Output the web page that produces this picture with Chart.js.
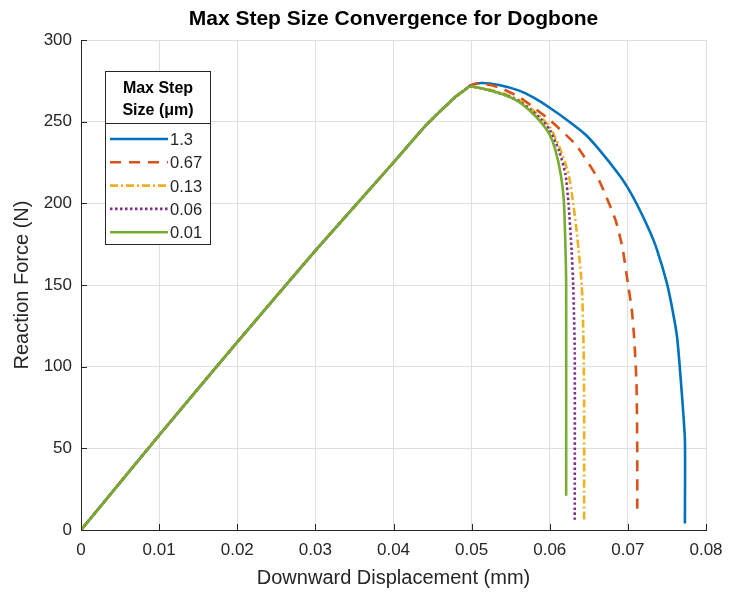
<!DOCTYPE html>
<html>
<head>
<meta charset="utf-8">
<title>Max Step Size Convergence for Dogbone</title>
<script src="https://cdn.jsdelivr.net/npm/chart.js@4.4.1/dist/chart.umd.min.js"></script>
<style>
  html, body { margin: 0; padding: 0; background: #fff; }
  #wrap { width: 730px; height: 596px; }
</style>
</head>
<body>
<div id="wrap"><canvas id="myChart1" width="730" height="596"></canvas></div>
<script>
var chartTitle = "Max Step Size Convergence for Dogbone";
var legendTitle = ["Max Step", "Size (\u03bcm)"];
var stepLabels = ["1.3", "0.67", "0.13", "0.06", "0.01"];

var xTickLabels = ["0", "0.01", "0.02", "0.03", "0.04", "0.05", "0.06", "0.07", "0.08"];
var yTickLabels = ["0", "50", "100", "150", "200", "250", "300"];

// elastic part, same for every run
var riseX = [0, 0.01, 0.02, 0.03, 0.04, 0.044, 0.046, 0.047, 0.048, 0.049];
var riseY = [0, 58, 115, 171, 225, 247, 256.5, 261, 265.5, 269];

// softening + failure, one pair per step size
var dropX_13 = [0.0498, 0.0512, 0.0535, 0.0561, 0.058, 0.06, 0.0625, 0.0646, 0.0663, 0.0688, 0.07, 0.0712, 0.0727, 0.0737, 0.075, 0.0757, 0.0763, 0.0769, 0.0773, 0.0773];
var dropY_13 = [272, 273.7, 272.5, 269, 264.5, 258.5, 250, 242, 233, 218, 209.5, 199, 184, 172, 151, 135, 118, 84, 55, 4];

var dropX_067 = [0.0498, 0.051, 0.0535, 0.0561, 0.058, 0.06, 0.0633, 0.0663, 0.0684, 0.0693, 0.07, 0.0705, 0.0708, 0.0711, 0.0712, 0.0712];
var dropY_067 = [272, 273.5, 271, 265, 258.5, 251, 236, 214, 190, 173, 151, 135, 118, 90, 50, 13];

var dropX_013 = [0.0498, 0.052, 0.0545, 0.0561, 0.0575, 0.059, 0.06, 0.0612, 0.0624, 0.063, 0.0634, 0.0637, 0.0641, 0.0643, 0.0644, 0.0644];
var dropY_013 = [271.5, 270, 266.5, 263, 258.5, 252, 247, 235, 218, 200, 185, 171, 150, 120, 80, 5];

var dropX_006 = [0.0498, 0.052, 0.0545, 0.0561, 0.0575, 0.059, 0.06, 0.0612, 0.062, 0.0624, 0.0628, 0.063, 0.0632, 0.0632];
var dropY_006 = [271.5, 269.5, 266, 262.5, 257.5, 251, 245, 232, 218, 200, 171, 150, 110, 6];

var dropX_001 = [0.0498, 0.052, 0.0544, 0.0561, 0.0575, 0.059, 0.06, 0.0607, 0.0614, 0.0618, 0.062, 0.0621, 0.0621];
var dropY_001 = [271.5, 269.5, 266, 262, 256.5, 249, 242, 233, 218, 202, 175, 150, 21];

var axisColor = "#262626";
var gridColor = "#dfdfdf";
var fontFam = "'Liberation Sans', Arial, Helvetica, sans-serif";

function curve(dx, dy) {
    var pts = [];
    for (var i = 0; i < riseX.length; i++) pts.push({x: riseX[i], y: riseY[i]});
    for (var j = 0; j < dx.length; j++) pts.push({x: dx[j], y: dy[j]});
    return pts;
}

function line(label, dx, dy, color, dash, order) {
    return {
        label: label,
        data: curve(dx, dy),
        showLine: true,
        borderColor: color,
        backgroundColor: color,
        borderWidth: 2.6,
        borderDash: dash,
        pointRadius: 0,
        tension: 0.2,
        fill: false,
        order: order
    };
}

var ptdata = {
    datasets: [
        line(stepLabels[0], dropX_13, dropY_13, "#0072BD", [], 4),
        line(stepLabels[1], dropX_067, dropY_067, "#D95319", [11, 8], 3),
        line(stepLabels[2], dropX_013, dropY_013, "#EDB120", [8, 3, 2, 3], 2),
        line(stepLabels[3], dropX_006, dropY_006, "#7E2F8E", [2.5, 2.5], 1),
        line(stepLabels[4], dropX_001, dropY_001, "#77AC30", [], 0)
    ]
};

// title, inward tick marks and the boxed legend
var extras = {
    id: "extras",
    afterDraw: function(chart) {
        var ctx = chart.ctx, area = chart.chartArea;
        var sx = chart.scales.x, sy = chart.scales.y;
        ctx.save();

        ctx.strokeStyle = axisColor;
        ctx.lineWidth = 1;
        ctx.beginPath();
        sx.ticks.forEach(function(t) {
            var px = Math.round(sx.getPixelForValue(t.value)) + 0.5;
            ctx.moveTo(px, area.bottom);
            ctx.lineTo(px, area.bottom - 6);
        });
        sy.ticks.forEach(function(t) {
            var py = Math.round(sy.getPixelForValue(t.value)) + 0.5;
            ctx.moveTo(area.left, py);
            ctx.lineTo(area.left + 6, py);
        });
        ctx.stroke();

        ctx.fillStyle = "#000";
        ctx.font = "bold 21px " + fontFam;
        ctx.textAlign = "center";
        ctx.textBaseline = "alphabetic";
        ctx.fillText(chartTitle, (area.left + area.right) / 2, 25);

        // legend
        var bx = 105.5, by = 71.5, bw = 105, bh = 173;
        ctx.fillStyle = "#fff";
        ctx.fillRect(bx, by, bw, bh);
        ctx.strokeStyle = axisColor;
        ctx.lineWidth = 1;
        ctx.strokeRect(bx, by, bw, bh);
        ctx.beginPath();
        ctx.moveTo(bx, 123.5);
        ctx.lineTo(bx + bw, 123.5);
        ctx.stroke();

        ctx.fillStyle = "#000";
        ctx.font = "bold 16px " + fontFam;
        ctx.fillText(legendTitle[0], bx + bw / 2, 93);
        ctx.fillText(legendTitle[1], bx + bw / 2, 115);

        ctx.font = "16.5px " + fontFam;
        ctx.textAlign = "left";
        chart.data.datasets.forEach(function(ds, i) {
            var ly = 139 + i * 23.3;
            ctx.save();
            ctx.strokeStyle = ds.borderColor;
            ctx.lineWidth = ds.borderWidth;
            ctx.setLineDash(ds.borderDash);
            ctx.beginPath();
            ctx.moveTo(110, ly);
            ctx.lineTo(168, ly);
            ctx.stroke();
            ctx.restore();
            ctx.fillStyle = axisColor;
            ctx.fillText(ds.label, 170, ly + 6);
        });
        ctx.restore();
    }
};

var ctx1 = document.getElementById("myChart1").getContext("2d");
var myNewChart1 = new Chart(ctx1, {
    type: "scatter",
    data: ptdata,
    plugins: [extras],
    options: {
        responsive: false,
        animation: false,
        layout: { padding: { top: 40, right: 24, bottom: 0, left: 0 } },
        plugins: {
            legend: { display: false },
            tooltip: { enabled: false }
        },
        scales: {
            x: {
                type: "linear",
                min: 0,
                max: 0.08,
                afterFit: function(scale) {
                    scale.height = 66;
                    scale.paddingLeft = 0;
                    scale.paddingRight = 0;
                },
                ticks: {
                    stepSize: 0.01,
                    color: axisColor,
                    padding: 10,
                    maxRotation: 0,
                    font: { family: fontFam, size: 17 },
                    callback: function(v, i) { return xTickLabels[i]; }
                },
                grid: { color: gridColor, drawTicks: false },
                border: { color: axisColor, width: 1 },
                title: {
                    display: true,
                    text: "Downward Displacement (mm)",
                    color: axisColor,
                    font: { family: fontFam, size: 20 },
                    padding: { top: 0, bottom: 6 }
                }
            },
            y: {
                type: "linear",
                min: 0,
                max: 300,
                afterFit: function(scale) { scale.width = 81; },
                ticks: {
                    stepSize: 50,
                    color: axisColor,
                    padding: 9,
                    font: { family: fontFam, size: 17 },
                    callback: function(v, i) { return yTickLabels[i]; }
                },
                grid: { color: gridColor, drawTicks: false },
                border: { color: axisColor, width: 1 },
                title: {
                    display: true,
                    text: "Reaction Force (N)",
                    color: axisColor,
                    font: { family: fontFam, size: 20 },
                    padding: { top: 10, bottom: 0 }
                }
            }
        }
    }
});
</script>
</body>
</html>
